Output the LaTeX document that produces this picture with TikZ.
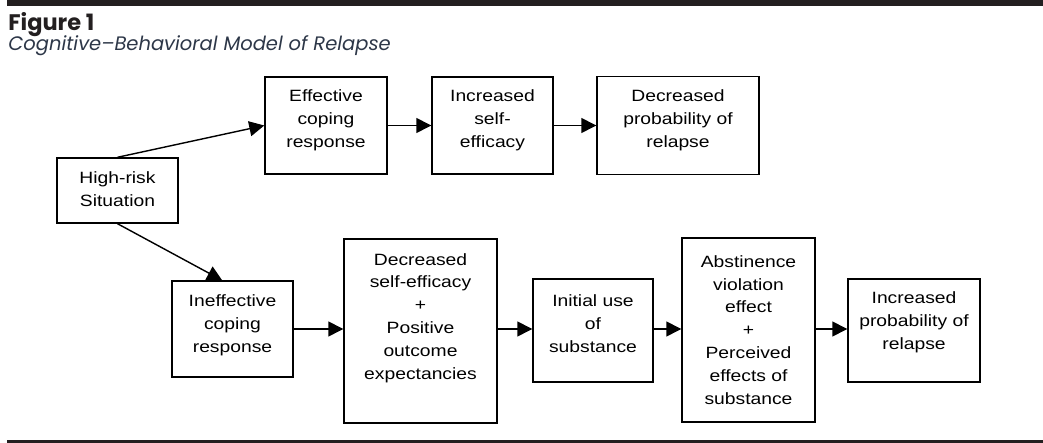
\documentclass[tikz,border=0pt]{standalone}
\usepackage{fontspec}
\setmainfont{Liberation Sans}[FakeStretch=1.18]
\newfontfamily\titlefont{Poppins}
\usetikzlibrary{arrows.meta}
\definecolor{titleink}{RGB}{35,31,32}
\definecolor{subink}{RGB}{45,55,72}
\tikzset{
	box/.style={shape=rectangle, draw, line width=0.8pt},
	boxtext/.style={anchor=center, align=center, inner sep=0pt, font=\fontsize{9.3}{13}\selectfont},
	flow/.style={line width=0.8pt, -{Triangle[length=0.3cm, width=0.3cm]}},
}
\begin{document}
\begin{tikzpicture}
	\useasboundingbox (0, 0) rectangle (20.86, 8.86);
	% Rules and heading:
	\fill[titleink] (0.14, 8.74) rectangle (20.86, 8.86);
	\fill[titleink] (0.14, 0) rectangle (20.86, 0.06);
	\node[anchor=base west, inner sep=0pt, text=titleink, font=\titlefont\bfseries\fontsize{12.8}{13}\selectfont](fig) at (0.16, 8.25){Figure 1};
	\node[anchor=base west, inner sep=0pt, text=subink, font=\titlefont\itshape\fontsize{11.1}{12}\selectfont](sub) at (0.16, 7.84){Cognitive–Behavioral Model of Relapse};
	% Boxes and their texts:
	\node[box, minimum width=2.42cm, minimum height=1.3cm](HR) at (2.35, 5.05){} node[boxtext] at ([yshift=0.03cm]HR.center){High-risk\\Situation};
	\node[box, minimum width=2.44cm, minimum height=1.94cm](ECR) at (6.52, 6.35){} node[boxtext] at ([yshift=0.1cm]ECR.center){Effective\\coping\\response};
	\node[box, minimum width=2.42cm, minimum height=1.94cm](ISE) at (9.85, 6.35){} node[boxtext] at ([yshift=0.1cm]ISE.center){Increased\\self-\\efficacy};
	\node[box, minimum width=3.24cm, minimum height=1.96cm](DPR) at (13.56, 6.35){} node[boxtext] at ([yshift=0.1cm]DPR.center){Decreased\\probability of\\relapse};
	\node[box, minimum width=2.42cm, minimum height=1.92cm](ICR) at (4.65, 2.28){} node[boxtext] at ([yshift=0.08cm]ICR.center){Ineffective\\coping\\response};
	\node[box, minimum width=3.06cm, minimum height=3.68cm](DSE) at (8.41, 2.24){} node[boxtext] at ([yshift=0.26cm]DSE.center){Decreased\\self-efficacy\\+\\Positive\\outcome\\expectancies};
	\node[box, minimum width=2.4cm, minimum height=2.06cm](IUS) at (11.86, 2.25){} node[boxtext] at ([yshift=0.14cm]IUS.center){Initial use\\of\\substance};
	\node[box, minimum width=2.66cm, minimum height=3.68cm](AVE) at (14.97, 2.26){} node[boxtext] at (AVE.center){Abstinence\\violation\\effect\\+\\Perceived\\effects of\\substance};
	\node[box, minimum width=2.64cm, minimum height=2.06cm](IPR) at (18.28, 2.25){} node[boxtext] at ([yshift=0.16cm]IPR.center){Increased\\probability of\\relapse};
	% Arrows:
	\draw[flow] (HR.north) -- (ECR.west);
	\draw[flow] (HR.south) -- (ICR.102);
	\draw[flow] (ECR.east) -- (ISE.west);
	\draw[flow] (ISE.east) -- (DPR.west);
	\draw[flow] (ICR.east) -- (ICR.east -| DSE.west);
	\draw[flow] (ICR.east -| DSE.east) -- (ICR.east -| IUS.west);
	\draw[flow] (ICR.east -| IUS.east) -- (ICR.east -| AVE.west);
	\draw[flow] (ICR.east -| AVE.east) -- (ICR.east -| IPR.west);
\end{tikzpicture}
\end{document}
